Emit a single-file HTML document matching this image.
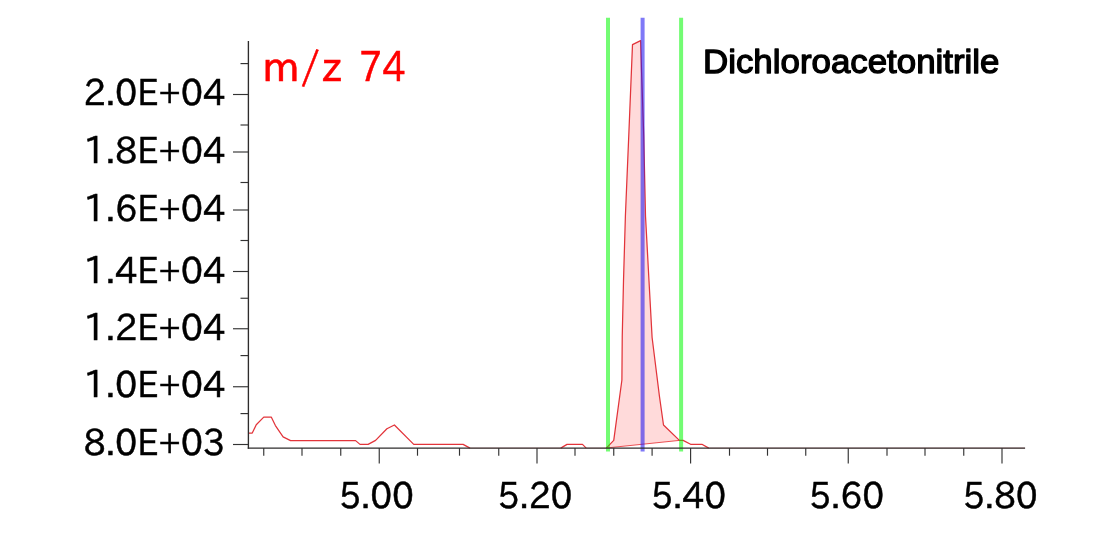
<!DOCTYPE html>
<html lang="en">
<head>
<meta charset="utf-8">
<title>Dichloroacetonitrile m/z 74</title>
<style>
html,body{margin:0;padding:0;background:#fff;}
body{width:1120px;height:533px;overflow:hidden;}
svg{display:block;will-change:transform;}
.ax{font-family:"IPAPGothic","Liberation Sans",sans-serif;font-size:36.8px;fill:#000;stroke:#000;stroke-width:0.5px;}
.mz{font-family:"IPAPGothic","Liberation Sans",sans-serif;font-size:41px;fill:#ff0000;stroke:#ff0000;stroke-width:0.45px;}
.ttl{font-family:"Liberation Sans",sans-serif;font-size:33.3px;fill:#000;stroke:#000;stroke-width:1.3px;stroke-linejoin:round;}
</style>
</head>
<body>
<svg width="1120" height="533" viewBox="0 0 1120 533">
<rect width="1120" height="533" fill="#fff"/>

<!-- peak fill -->
<polygon fill="#ffdada" points="606.25,448 613.75,440.4 621.9,380 622.25,336 623.5,281 625.4,216 628.75,136 632.5,44.6 640.6,40.6 641.5,70 643.75,136 645.5,216 649,281 652.1,337.5 659.4,396 663.5,425 679.4,440.4"/>

<!-- trace -->
<g fill="none" stroke="#e2343a" stroke-width="1.25" stroke-linejoin="round">
<polyline points="248.5,433.1 252.25,433.1 256.25,424.75 263.75,417.1 271.25,417.1 275.4,425.6 283.1,436.9 290.6,440.6 355.6,440.6 360,444.4 368.1,444.4 375.6,440.4 386.9,428.75 394.4,425 413.75,444.4 463.1,444.4 470,448.1"/>
<polyline points="560.75,448.1 567,444.4 582.5,444.4 586.25,448.1"/>
<polyline points="606.25,448.1 613.75,440.4 621.9,380 622.25,336 623.5,281 625.4,216 628.75,136 632.5,44.6 640.6,40.6 641.5,70 643.75,136 645.5,216 649,281 652.1,337.5 659.4,396 663.5,425 679.4,440.4 683.1,440.4 690.6,444.3 701.9,444.3 708.75,448.1"/>
<path stroke-opacity="0.3" d="M470,448.2H560.75M586.25,448.2H606.25M708.75,448.2H1025"/>
</g>
<!-- integration baseline -->
<line x1="606.25" y1="448" x2="679.4" y2="440.4" stroke="#e62a2e" stroke-width="0.8"/>

<!-- markers -->
<line x1="608" x2="608" y1="17.75" y2="451.6" stroke="#00fa00" stroke-opacity="0.55" stroke-width="4"/>
<line x1="681.1" x2="681.1" y1="17.75" y2="451.6" stroke="#00fa00" stroke-opacity="0.55" stroke-width="4"/>
<line x1="642.6" x2="642.6" y1="17.75" y2="451.6" stroke="#1a10f0" stroke-opacity="0.56" stroke-width="4"/>

<!-- axes -->
<g stroke="#2e2c2c" stroke-width="1.35" fill="none">
<line x1="248.4" y1="41" x2="248.4" y2="448.8"/>
<line x1="247.75" y1="448.15" x2="1025.1" y2="448.15"/>
</g>
<!-- y ticks -->
<g stroke="#333" stroke-width="1.15">
<line x1="233" x2="248" y1="94.5" y2="94.5"/>
<line x1="233" x2="248" y1="152" y2="152"/>
<line x1="233" x2="248" y1="210" y2="210"/>
<line x1="233" x2="248" y1="271.5" y2="271.5"/>
<line x1="233" x2="248" y1="328.75" y2="328.75"/>
<line x1="233" x2="248" y1="386.75" y2="386.75"/>
<line x1="233" x2="248" y1="444.5" y2="444.5"/>
<line x1="240.5" x2="248" y1="63.6" y2="63.6"/>
<line x1="240.5" x2="248" y1="125" y2="125"/>
<line x1="240.5" x2="248" y1="182.5" y2="182.5"/>
<line x1="240.5" x2="248" y1="240.5" y2="240.5"/>
<line x1="240.5" x2="248" y1="298.25" y2="298.25"/>
<line x1="240.5" x2="248" y1="355.6" y2="355.6"/>
<line x1="240.5" x2="248" y1="413.6" y2="413.6"/>
</g>
<!-- x ticks -->
<g stroke="#333" stroke-width="1.15">
<line y1="448" y2="463.4" x1="379.25" x2="379.25"/>
<line y1="448" y2="463.4" x1="537" x2="537"/>
<line y1="448" y2="463.4" x1="690.6" x2="690.6"/>
<line y1="448" y2="463.4" x1="848.25" x2="848.25"/>
<line y1="448" y2="463.4" x1="1002" x2="1002"/>
<line y1="448" y2="455.7" x1="263.75" x2="263.75"/>
<line y1="448" y2="455.7" x1="302" x2="302"/>
<line y1="448" y2="455.7" x1="340.75" x2="340.75"/>
<line y1="448" y2="455.7" x1="417.5" x2="417.5"/>
<line y1="448" y2="455.7" x1="459.5" x2="459.5"/>
<line y1="448" y2="455.7" x1="498.75" x2="498.75"/>
<line y1="448" y2="455.7" x1="575" x2="575"/>
<line y1="448" y2="455.7" x1="613.75" x2="613.75"/>
<line y1="448" y2="455.7" x1="652.1" x2="652.1"/>
<line y1="448" y2="455.7" x1="729.5" x2="729.5"/>
<line y1="448" y2="455.7" x1="767.5" x2="767.5"/>
<line y1="448" y2="455.7" x1="805.75" x2="805.75"/>
<line y1="448" y2="455.7" x1="887" x2="887"/>
<line y1="448" y2="455.7" x1="925" x2="925"/>
<line y1="448" y2="455.7" x1="963.75" x2="963.75"/>
</g>

<!-- y labels -->
<g class="ax" text-anchor="end">
<text x="225.4" y="105" textLength="142" lengthAdjust="spacingAndGlyphs">2.0E+04</text>
<text x="225.4" y="162.7" textLength="142" lengthAdjust="spacingAndGlyphs">1.8E+04</text>
<text x="225.4" y="220.5" textLength="142" lengthAdjust="spacingAndGlyphs">1.6E+04</text>
<text x="225.4" y="282.5" textLength="142" lengthAdjust="spacingAndGlyphs">1.4E+04</text>
<text x="225.4" y="339.5" textLength="142" lengthAdjust="spacingAndGlyphs">1.2E+04</text>
<text x="225.4" y="397" textLength="142" lengthAdjust="spacingAndGlyphs">1.0E+04</text>
<text x="225.4" y="454.5" textLength="142" lengthAdjust="spacingAndGlyphs">8.0E+03</text>
</g>
<!-- x labels -->
<g class="ax" text-anchor="middle">
<text x="376.5" y="508.4" textLength="75" lengthAdjust="spacingAndGlyphs">5.00</text>
<text x="535" y="508.4" textLength="75" lengthAdjust="spacingAndGlyphs">5.20</text>
<text x="688.6" y="508.4" textLength="75" lengthAdjust="spacingAndGlyphs">5.40</text>
<text x="846.6" y="508.4" textLength="75" lengthAdjust="spacingAndGlyphs">5.60</text>
<text x="1000.3" y="508.4" textLength="75" lengthAdjust="spacingAndGlyphs">5.80</text>
</g>

<text class="mz" y="81.2"><tspan x="262" textLength="80.5" lengthAdjust="spacingAndGlyphs">m/z</tspan> <tspan x="359" textLength="46.5" lengthAdjust="spacingAndGlyphs">74</tspan></text>
<text class="ttl" x="703" y="72.95" textLength="296.5" lengthAdjust="spacingAndGlyphs">Dichloroacetonitrile</text>
</svg>
</body>
</html>
